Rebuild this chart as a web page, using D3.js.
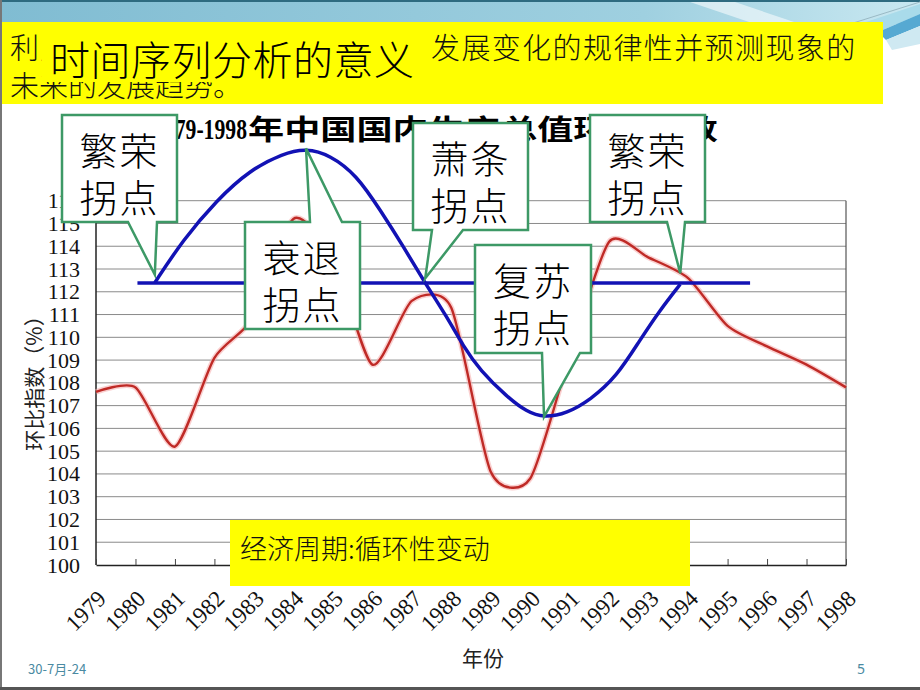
<!DOCTYPE html>
<html><head><meta charset="utf-8">
<script src="https://cdn.jsdelivr.net/npm/d3@7"></script>
<style>
html,body{margin:0;padding:0;background:#fff;}
svg{display:block;}
</style></head>
<body>
<svg id="c" width="920" height="690"></svg>
<script>
// ---------- data ----------
const years = [1979,1980,1981,1982,1983,1984,1985,1986,1987,1988,1989,1990,1991,1992,1993,1994,1995,1996,1997,1998];
const gdpIndex = [107.6,107.8,105.2,109.1,110.9,115.2,113.5,108.8,111.6,111.3,104.1,103.8,109.2,114.2,113.5,112.6,110.5,109.6,108.8,107.8];
const yTicks = [100,101,102,103,104,105,106,107,108,109,110,111,112,113,114,115,116];
const cycleBaseValue = 112.38;
const cycleBaseYears = [1980.05, 1995.57];
const waveYears  = [1980.49,1981.20,1982.06,1982.90,1983.74,1984.32,1984.93,1985.60,1986.20,1986.79,1987.34,1987.89,1988.31,1988.73,1989.41,1989.91,1990.35,1990.93,1991.52,1992.19,1992.78,1993.29,1993.80];
const waveValues = [112.40,114.27,116.03,117.35,118.08,118.30,118.01,117.13,115.59,113.98,112.37,110.90,109.59,108.55,107.39,106.73,106.47,106.66,107.25,108.27,109.88,111.20,112.33];
const turnLabels = [["繁荣","拐点"],["衰退","拐点"],["萧条","拐点"],["复苏","拐点"],["繁荣","拐点"]];
const turnYears  = [1980.49,1984.32,1987.34,1990.35,1993.80];
const turnValues = [112.40,118.30,112.37,106.47,112.33];
const chartTitleNum = "1979-1998";
const chartTitleText = "年中国国内生产总值环比指数";
const yAxisTitle = "环比指数（%）";
const xAxisTitle = "年份";
const headline = "时间序列分析的意义";
const bodyLine1a = "利用时间序列分析，揭示现象";
const bodyLine1b = "发展变化的规律性并预测现象的";
const bodyLine2 = "未来的发展趋势。";
const noteText = "经济周期:循环性变动";
const footerDate = "30-7月-24";
const pageNo = "5";

// ---------- layout ----------
const CJK = "'Noto Sans CJK SC','Noto Sans',sans-serif";
const SERIF = "'Liberation Serif','DejaVu Serif',serif";
const svg = d3.select("#c");
const x = d3.scaleLinear().domain([1979,1998]).range([96,846]);
const y = d3.scaleLinear().domain([100,116]).range([565,200.7]);

// background decoration
const defs = svg.append("defs");
const g1 = defs.append("linearGradient").attr("id","band").attr("x1","0").attr("x2","1").attr("y1","0").attr("y2","0");
g1.append("stop").attr("offset","0").attr("stop-color","#80bcd2");
g1.append("stop").attr("offset","0.7").attr("stop-color","#9fd0e0");
g1.append("stop").attr("offset","1").attr("stop-color","#c9e8f1");
svg.append("rect").attr("x",0).attr("y",0).attr("width",920).attr("height",24).attr("fill","url(#band)");
svg.append("polygon").attr("points","690,2 735,2 800,24 755,24").attr("fill","#ffffff").attr("opacity",0.55);
svg.append("rect").attr("x",0).attr("y",0).attr("width",920).attr("height",2).attr("fill","#2e6b80");
svg.append("polygon").attr("points","860,24 920,4 920,14 878,32").attr("fill","#a9dbea");
svg.append("polygon").attr("points","878,32 920,14 920,26 886,40").attr("fill","#56a9d2");
svg.append("polygon").attr("points","886,40 920,26 920,44 892,50").attr("fill","#cfe9f2");
svg.append("line").attr("x1",850).attr("y1",24).attr("x2",920).attr("y2",2).attr("stroke","#9ab9c4").attr("stroke-width",1);

// header yellow box
svg.append("rect").attr("x",0).attr("y",22).attr("width",883).attr("height",82).attr("fill","#ffff00");
const l1 = svg.append("text").attr("y",46).attr("dominant-baseline","central")
  .attr("font-family",CJK).attr("font-weight",300).attr("font-size",29).attr("fill","#111");
l1.append("tspan").attr("x",10).attr("letter-spacing",1.4).text(bodyLine1a);
l1.append("tspan").attr("x",431).attr("letter-spacing",1.4).text(bodyLine1b);
svg.append("text").attr("x",10).attr("y",84).attr("dominant-baseline","central")
  .attr("font-family",CJK).attr("font-weight",300).attr("font-size",29).attr("fill","#111").text(bodyLine2);
svg.append("rect").attr("x",42).attr("y",26).attr("width",383).attr("height",56).attr("fill","#ffff00");
svg.append("text").attr("x",50).attr("y",58).attr("dominant-baseline","central")
  .attr("font-family",CJK).attr("font-weight",300).attr("font-size",40).attr("letter-spacing",0.5).attr("fill","#000").text(headline);

// gridlines
svg.append("g").selectAll("line").data(yTicks.slice(1)).join("line")
  .attr("x1",x(1979)).attr("x2",x(1998)).attr("y1",d=>y(d)).attr("y2",d=>y(d))
  .attr("stroke","#8a8a8a").attr("stroke-width",1);
svg.append("line").attr("x1",x(1998)).attr("x2",x(1998)).attr("y1",y(116)).attr("y2",y(100)).attr("stroke","#555").attr("stroke-width",1.2);
svg.append("line").attr("x1",x(1979)).attr("x2",x(1979)).attr("y1",y(116)).attr("y2",y(100)).attr("stroke","#222").attr("stroke-width",1.5);

// y tick labels
svg.append("g").selectAll("text").data(yTicks).join("text")
  .attr("x",80).attr("y",d=>y(d)).attr("text-anchor","end").attr("dominant-baseline","central")
  .attr("font-family",SERIF).attr("font-size",22).attr("fill","#111").text(d=>d);

// x axis
const xa = svg.append("g").attr("transform",`translate(0,${y(100)})`)
  .call(d3.axisBottom(x).tickValues(years).tickFormat(d3.format("d")).tickSize(-6).tickSizeOuter(0));
xa.select(".domain").attr("stroke","#222").attr("stroke-width",1.5);
xa.selectAll(".tick line").attr("stroke","#444");
xa.selectAll(".tick text").attr("x",0).attr("y",0).attr("dy",0)
  .attr("transform","translate(11,35) rotate(-45)").attr("text-anchor","end")
  .attr("font-family",SERIF).attr("font-size",23).attr("fill","#111");

// axis titles
svg.append("text").attr("transform","translate(33,378) rotate(-90)").attr("text-anchor","middle")
  .attr("dominant-baseline","central").attr("font-family",CJK).attr("font-size",21).attr("fill","#222").text(yAxisTitle);
svg.append("text").attr("x",483).attr("y",657).attr("text-anchor","middle").attr("dominant-baseline","central")
  .attr("font-family",CJK).attr("font-size",21).attr("fill","#222").text(xAxisTitle);

// chart title
svg.append("text").attr("x",153).attr("y",128).attr("dominant-baseline","central")
  .attr("font-family",SERIF).attr("font-weight","bold").attr("font-size",30)
  .attr("textLength",94).attr("lengthAdjust","spacingAndGlyphs").text(chartTitleNum);
svg.append("text").attr("x",248).attr("y",128).attr("dominant-baseline","central")
  .attr("font-family",CJK).attr("font-weight","bold").attr("font-size",28)
  .attr("textLength",470).attr("lengthAdjust","spacingAndGlyphs").text(chartTitleText);

// red series
const redLine = d3.line().x((d,i)=>x(years[i])).y(d=>y(d)).curve(d3.curveCardinal.tension(0.3));
svg.append("path").attr("d",redLine(gdpIndex)).attr("fill","none").attr("stroke","#f7b0b0").attr("stroke-width",5.5).attr("opacity",0.6);
svg.append("path").attr("d",redLine(gdpIndex)).attr("fill","none").attr("stroke","#bf2a26").attr("stroke-width",2.4);

// blue cycle
svg.append("line").attr("x1",x(cycleBaseYears[0])).attr("x2",x(cycleBaseYears[1]))
  .attr("y1",y(cycleBaseValue)).attr("y2",y(cycleBaseValue)).attr("stroke","#1212b4").attr("stroke-width",3.5);
const blueLine = d3.line().x((d,i)=>x(waveYears[i])).y(d=>y(d)).curve(d3.curveBasis);
svg.append("path").attr("d",blueLine(waveValues)).attr("fill","none").attr("stroke","#1212b4").attr("stroke-width",3.5);

// callouts
const boxes = [
  {x0:62,y0:115,x1:177,y1:222,side:"bottom",b1:128,b2:157,tipDy:-8},
  {x0:245,y0:222,x1:360,y1:329,side:"top",b1:310,b2:342,tipDy:0},
  {x0:413,y0:123,x1:528,y1:230,side:"bottom",b1:432,b2:463,tipDy:-5},
  {x0:475,y0:245,x1:591,y1:353,side:"bottom",b1:542,b2:580,tipDy:-1},
  {x0:590,y0:115,x1:705,y1:222,side:"bottom",b1:667,b2:685,tipDy:-11}
];
boxes.forEach((b,i)=>{
  const tx = x(turnYears[i]), ty = y(turnValues[i]) + b.tipDy;
  let p;
  if (b.side==="top") {
    p = [[b.x0,b.y0],[b.b1,b.y0],[tx,ty],[b.b2,b.y0],[b.x1,b.y0],[b.x1,b.y1],[b.x0,b.y1]];
  } else {
    p = [[b.x0,b.y0],[b.x1,b.y0],[b.x1,b.y1],[b.b2,b.y1],[tx,ty],[b.b1,b.y1],[b.x0,b.y1]];
  }
  svg.append("path").attr("d","M"+p.map(q=>q.join(",")).join("L")+"Z")
    .attr("fill","#fff").attr("stroke","#3d9966").attr("stroke-width",2.5).attr("stroke-linejoin","miter");
  const cx = (b.x0+b.x1)/2;
  turnLabels[i].forEach((t,j)=>{
    svg.append("text").attr("x",cx).attr("y",b.y0+33+j*47).attr("text-anchor","middle")
      .attr("dominant-baseline","central").attr("font-family",CJK).attr("font-weight",300).attr("font-size",38)
      .attr("letter-spacing",2).attr("fill","#000").text(t);
  });
});

// note box
svg.append("rect").attr("x",230).attr("y",520).attr("width",460).attr("height",66).attr("fill","#ffff00");
svg.append("text").attr("x",240).attr("y",547).attr("dominant-baseline","central")
  .attr("font-family",CJK).attr("font-weight",300).attr("font-size",27).attr("fill","#111").text(noteText);

// footer
svg.append("text").attr("x",28).attr("y",668).attr("dominant-baseline","central")
  .attr("font-family","'Noto Sans CJK SC',sans-serif").attr("font-size",13).attr("fill","#4a8aa2").text(footerDate);
svg.append("text").attr("x",857).attr("y",668).attr("dominant-baseline","central")
  .attr("font-family","'Noto Sans',sans-serif").attr("font-size",14).attr("fill","#4a8aa2").text(pageNo);

// frame
svg.append("line").attr("x1",1).attr("x2",1).attr("y1",0).attr("y2",690).attr("stroke","#777").attr("stroke-width",2);
svg.append("line").attr("x1",0).attr("x2",920).attr("y1",688.5).attr("y2",688.5).attr("stroke","#555").attr("stroke-width",3);
</script>
</body></html>
